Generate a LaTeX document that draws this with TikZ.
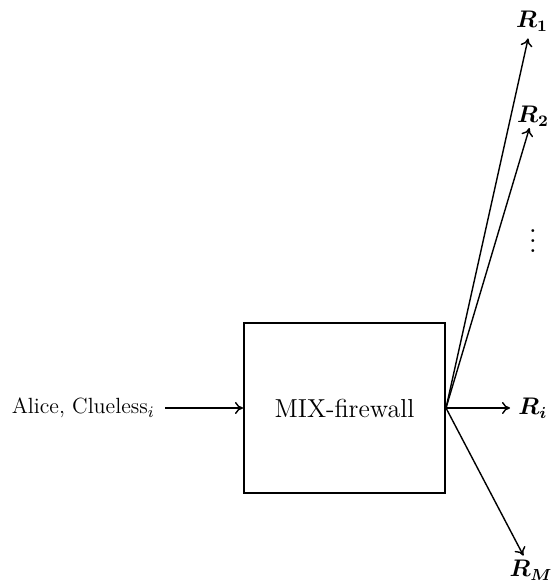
\documentclass[tikz,border=0pt]{standalone}
\usepackage{amsmath}
\usetikzlibrary{arrows.meta}
\begin{document}
\begin{tikzpicture}[x=0.5pt,y=-0.5pt,
  lbl/.style={font=\fontsize{11}{13.2}\selectfont},
  boxlbl/.style={font=\fontsize{13}{15.6}\selectfont},
  rlbl/.style={font=\fontsize{12}{14.4}\selectfont\boldmath},
  conn/.style={line width=0.7pt,-{To[length=4pt,width=6pt]}}]
\useasboundingbox (0,0) rectangle (550,582);
\node[draw, line width=1pt, minimum width=100.5pt, minimum height=85pt, boxlbl] (mix) at (344.5,408) {MIX-firewall};
\node[lbl, anchor=east, inner sep=0pt] (alice) at (155,408) {Alice, Clueless$_i$};
\coordinate (o) at (mix.east);
\node[rlbl, inner sep=3.5pt] (r1) at (532,21) {$R_1$};
\node[rlbl, inner sep=0.8pt] (r2) at (533,116) {$R_2$};
\node[rlbl, anchor=west, inner sep=4pt] (ri) at (510,408) {$R_i$};
\node[rlbl, inner sep=2pt] (rm) at (531,570) {$R_M$};
\node[rlbl, inner sep=0pt] (dots) at (533,234) {\scalebox{1.25}{$\vdots$}};
\draw[conn, shorten <=5pt] (alice) -- (mix) ;
\draw[conn] (o) -- (r1);
\draw[conn] (o) -- (r2);
\draw[conn] (o) -- (ri);
\draw[conn] (o) -- (rm);
\end{tikzpicture}
\end{document}
